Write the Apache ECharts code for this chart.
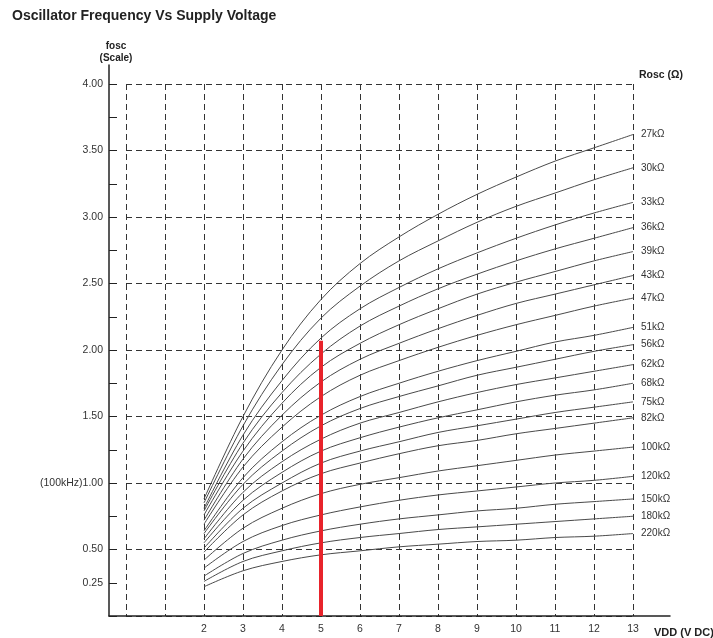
<!DOCTYPE html>
<html>
<head>
<meta charset="utf-8">
<script src="https://cdn.jsdelivr.net/npm/echarts@6/dist/echarts.min.js"></script>
<style>
  html, body { margin: 0; padding: 0; background: #fff; }
  #main { width: 713px; height: 638px; }
</style>
</head>
<body>
<div id="main"></div>
<script>
// VDD (V DC) sample points
var vdd = [2, 3, 4, 5, 6, 7, 8, 9, 10, 11, 12, 13];
// Rosc names, top curve first
var roscNames = ['27kΩ', '30kΩ', '33kΩ', '36kΩ', '39kΩ', '43kΩ', '47kΩ', '51kΩ', '56kΩ', '62kΩ',
    '68kΩ', '75kΩ', '82kΩ', '100kΩ', '120kΩ', '150kΩ', '180kΩ', '220kΩ'];
// fosc (scale, 1.00 = 100kHz), one row per Rosc
var f27k = [0.88, 1.50, 2.00, 2.38, 2.65, 2.85, 3.02, 3.17, 3.30, 3.42, 3.52, 3.62];
var f30k = [0.85, 1.43, 1.89, 2.24, 2.48, 2.67, 2.82, 2.96, 3.08, 3.18, 3.28, 3.37];
var f33k = [0.81, 1.36, 1.77, 2.09, 2.31, 2.47, 2.61, 2.73, 2.84, 2.94, 3.03, 3.11];
var f36k = [0.79, 1.30, 1.68, 1.97, 2.18, 2.33, 2.46, 2.57, 2.67, 2.76, 2.84, 2.92];
var f39k = [0.76, 1.24, 1.60, 1.87, 2.05, 2.19, 2.31, 2.42, 2.51, 2.59, 2.67, 2.74];
var f43k = [0.72, 1.18, 1.51, 1.76, 1.93, 2.05, 2.16, 2.26, 2.35, 2.42, 2.49, 2.56];
var f47k = [0.69, 1.12, 1.42, 1.65, 1.81, 1.92, 2.02, 2.11, 2.19, 2.26, 2.33, 2.39];
var f51k = [0.64, 1.04, 1.31, 1.51, 1.65, 1.75, 1.84, 1.92, 1.99, 2.06, 2.11, 2.17];
var f56k = [0.62, 0.99, 1.24, 1.43, 1.56, 1.65, 1.73, 1.81, 1.87, 1.93, 1.99, 2.04];
var f62k = [0.58, 0.93, 1.16, 1.33, 1.45, 1.53, 1.61, 1.68, 1.74, 1.79, 1.84, 1.89];
var f68k = [0.55, 0.87, 1.08, 1.24, 1.34, 1.42, 1.49, 1.55, 1.61, 1.66, 1.70, 1.75];
var f75k = [0.51, 0.81, 1.00, 1.15, 1.24, 1.31, 1.38, 1.43, 1.48, 1.53, 1.57, 1.61];
var f82k = [0.48, 0.76, 0.94, 1.07, 1.15, 1.22, 1.28, 1.32, 1.37, 1.41, 1.45, 1.49];
var f100k = [0.42, 0.66, 0.81, 0.92, 0.99, 1.04, 1.09, 1.13, 1.17, 1.21, 1.24, 1.27];
var f120k = [0.36, 0.56, 0.68, 0.76, 0.82, 0.87, 0.91, 0.94, 0.97, 1.00, 1.02, 1.05];
var f150k = [0.30, 0.47, 0.57, 0.64, 0.69, 0.73, 0.76, 0.79, 0.81, 0.84, 0.86, 0.88];
var f180k = [0.26, 0.41, 0.49, 0.55, 0.59, 0.62, 0.65, 0.67, 0.69, 0.71, 0.73, 0.75];
var f220k = [0.22, 0.34, 0.41, 0.46, 0.49, 0.52, 0.54, 0.56, 0.57, 0.59, 0.60, 0.62];
var foscRows = [f27k, f30k, f33k, f36k, f39k, f43k, f47k, f51k, f56k, f62k,
    f68k, f75k, f82k, f100k, f120k, f150k, f180k, f220k];
// red marker at 5V
var markerX = [5, 5];
var markerY = [0, 2.07];

var FONT = '"Liberation Sans", Arial, sans-serif';
var chart = echarts.init(document.getElementById('main'));

function pairs(xs, ys) {
    var arr = [];
    for (var i = 0; i < xs.length; i++) {
        arr.push([xs[i], ys[i]]);
    }
    return arr;
}

var seriesArr = [];
for (var i = 0; i < roscNames.length; i++) {
    seriesArr.push({
        name: roscNames[i],
        type: 'line',
        xAxisIndex: 1,
        yAxisIndex: 1,
        smooth: 0.35,
        symbol: 'none',
        silent: true,
        lineStyle: { color: '#4a4a4a', width: 1 },
        endLabel: {
            show: true,
            formatter: '{a}',
            distance: 8,
            fontSize: 10,
            fontFamily: FONT,
            color: '#333'
        },
        data: pairs(vdd, foscRows[i])
    });
}
seriesArr.push({
    name: 'marker',
    type: 'line',
    xAxisIndex: 1,
    yAxisIndex: 1,
    symbol: 'none',
    silent: true,
    z: 5,
    lineStyle: { color: '#e8232b', width: 4 },
    data: pairs(markerX, markerY)
});

var dash = { color: '#333', width: 1, type: [6, 4] };

var option = {
    animation: false,
    backgroundColor: '#fff',
    title: [
        { text: 'Oscillator Frequency Vs Supply Voltage', left: 7, top: 4,
          textStyle: { fontSize: 14, fontWeight: 'bold', color: '#222', fontFamily: FONT } },
        { text: 'fosc\n(Scale)', left: 111, top: 35, textAlign: 'center',
          textStyle: { fontSize: 10, fontWeight: 'bold', color: '#222', lineHeight: 12, fontFamily: FONT } },
        { text: 'Rosc (Ω)', left: 634, top: 65,
          textStyle: { fontSize: 10.5, fontWeight: 'bold', color: '#222', fontFamily: FONT } },
        { text: 'VDD (V DC)', left: 649, top: 622,
          textStyle: { fontSize: 11, fontWeight: 'bold', color: '#222', fontFamily: FONT } }
    ],
    grid: [
        // frame axes (solid lines)
        { left: 109, right: 43, top: 65, bottom: 22 },
        // plotting area
        { left: 126, right: 80, top: 84, bottom: 22 }
    ],
    xAxis: [
        { gridIndex: 0, type: 'value', min: 0, max: 1,
          axisLine: { show: true, lineStyle: { color: '#222', width: 1.5 } },
          axisTick: { show: false }, axisLabel: { show: false }, splitLine: { show: false } },
        { gridIndex: 1, type: 'value', min: 0, max: 13, interval: 1,
          axisLine: { show: false }, axisTick: { show: false },
          axisLabel: {
              margin: 8, fontSize: 10.5, color: '#333', fontFamily: FONT,
              formatter: function(v) { return v >= 2 ? String(v) : ''; }
          },
          splitLine: { show: true, lineStyle: dash } }
    ],
    yAxis: [
        { gridIndex: 0, type: 'value', min: 0, max: 1,
          axisLine: { show: true, lineStyle: { color: '#222', width: 1.5 } },
          axisTick: { show: false }, axisLabel: { show: false }, splitLine: { show: false } },
        { gridIndex: 1, type: 'value', min: 0, max: 4, interval: 0.5,
          axisLine: { show: false }, axisTick: { show: false }, axisLabel: { show: false },
          splitLine: { show: true, lineStyle: dash } },
        { gridIndex: 1, type: 'value', min: 0, max: 4, interval: 0.25, position: 'left', offset: 17,
          axisLine: { show: false },
          axisTick: { show: true, inside: true, length: 8, lineStyle: { color: '#222', width: 1 } },
          axisLabel: {
              margin: 6, fontSize: 10.5, color: '#333', fontFamily: FONT,
              formatter: function(v) {
                  if (v === 0) return '';
                  if (v === 1) return '(100kHz)1.00';
                  if (v === 0.25 || Math.abs(v * 2 - Math.round(v * 2)) < 1e-6) return v.toFixed(2);
                  return '';
              }
          },
          splitLine: { show: false } }
    ],
    series: seriesArr
};
// series use grid 1 axes: x index 1, y index 1
chart.setOption(option);
</script>
</body>
</html>
